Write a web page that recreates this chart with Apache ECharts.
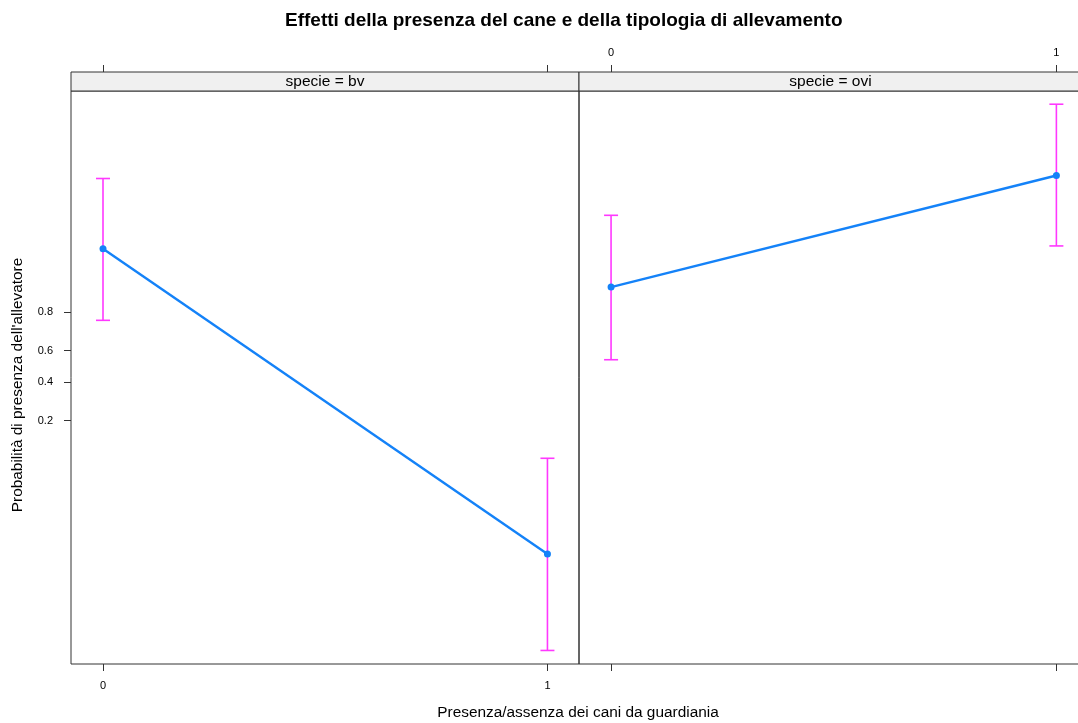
<!DOCTYPE html>
<html>
<head>
<meta charset="utf-8">
<script src="https://cdn.jsdelivr.net/npm/echarts@6/dist/echarts.min.js"></script>
<style>
  html, body { margin: 0; padding: 0; background: #ffffff; }
  #chart { width: 1078px; height: 723px; }
</style>
</head>
<body>
<div id="chart"></div>
<script>
// Fitted probabilities and 95% bounds, by guard-dog presence (0/1), per species panel
const categories = [0, 1];
const panelNames = ['specie = bv', 'specie = ovi'];
const fitBv = [0.953, 0.0082];
const lowerBv = [0.765, 0.0007];
const upperBv = [0.9919, 0.0872];
const fitOvi = [0.884, 0.9925];
const lowerOvi = [0.543, 0.9562];
const upperOvi = [0.9795, 0.99878];
const yTickLabels = [0.2, 0.4, 0.6, 0.8];

// the vertical axis is drawn on the logit scale
const logit = p => Math.log(p / (1 - p));
const invLogit = v => 1 / (1 + Math.exp(-v));

const BLUE = '#1482f8';
const MAGENTA = '#ff38ff';
const FONT = '"Liberation Sans", Arial, sans-serif';

const yMin = -7.61, yMax = 7.046;
const xMin = -0.072, xMax = 1.071;

function lineData(fit) {
  return categories.map((c, i) => [c, logit(fit[i])]);
}
function barData(lower, upper) {
  return categories.map((c, i) => [c, logit(lower[i]), logit(upper[i])]);
}

function errorBar(params, api) {
  const x = api.value(0);
  const lo = api.coord([x, api.value(1)]);
  const hi = api.coord([x, api.value(2)]);
  const half = 7;
  const style = { stroke: MAGENTA, lineWidth: 1.6, fill: null };
  return {
    type: 'group',
    children: [
      { type: 'line', shape: { x1: lo[0], y1: lo[1], x2: hi[0], y2: hi[1] }, style },
      { type: 'line', shape: { x1: lo[0] - half, y1: lo[1], x2: lo[0] + half, y2: lo[1] }, style },
      { type: 'line', shape: { x1: hi[0] - half, y1: hi[1], x2: hi[0] + half, y2: hi[1] }, style }
    ]
  };
}

const tickStyle = { show: true, length: 7, inside: false, lineStyle: { color: '#333', width: 1 } };

// lattice-style axes: ticks on both sides, labels alternating between panels
function xAxisFor(gridIndex, position, offset, margin, showLabels) {
  return {
    type: 'value', gridIndex, position, offset,
    min: xMin, max: xMax,
    axisLine: { show: false, onZero: false },
    splitLine: { show: false },
    axisTick: Object.assign({ customValues: categories }, tickStyle),
    axisLabel: {
      show: showLabels, customValues: categories, margin,
      color: '#000', fontFamily: FONT, fontSize: 11,
      formatter: v => String(Math.round(v))
    }
  };
}

const chart = echarts.init(document.getElementById('chart'), null, { renderer: 'canvas' });

const gridTop = 91, gridHeight = 573;
const panels = [
  { left: 71, width: 508 },
  { left: 579, width: 509 }
];

chart.setOption({
  animation: false,
  backgroundColor: '#ffffff',
  title: {
    text: 'Effetti della presenza del cane e della tipologia di allevamento',
    left: 280, top: 6,
    textStyle: { fontFamily: FONT, fontSize: 19, fontWeight: 'bold', color: '#000' }
  },
  grid: panels.map(p => ({
    left: p.left, top: gridTop, width: p.width, height: gridHeight,
    outerBoundsMode: 'none', containLabel: false,
    show: true, borderColor: '#333', borderWidth: 1, backgroundColor: 'transparent'
  })),
  xAxis: [
    xAxisFor(0, 'bottom', 0, 16, true),
    xAxisFor(1, 'top', 19, 14, true),
    xAxisFor(0, 'top', 19, 14, false),
    xAxisFor(1, 'bottom', 0, 16, false)
  ],
  yAxis: [
    {
      type: 'value', gridIndex: 0, min: yMin, max: yMax,
      axisLine: { show: false, onZero: false }, splitLine: { show: false },
      axisTick: Object.assign({ customValues: yTickLabels.map(logit) }, tickStyle),
      axisLabel: {
        customValues: yTickLabels.map(logit), margin: 18,
        color: '#000', fontFamily: FONT, fontSize: 11,
        formatter: v => invLogit(v).toFixed(1)
      }
    },
    {
      type: 'value', gridIndex: 1, min: yMin, max: yMax,
      axisLine: { show: false, onZero: false }, splitLine: { show: false },
      axisTick: { show: false }, axisLabel: { show: false }
    }
  ],
  series: [
    {
      type: 'custom', xAxisIndex: 0, yAxisIndex: 0,
      data: barData(lowerBv, upperBv), renderItem: errorBar, z: 2
    },
    {
      type: 'custom', xAxisIndex: 1, yAxisIndex: 1,
      data: barData(lowerOvi, upperOvi), renderItem: errorBar, z: 2
    },
    {
      type: 'line', xAxisIndex: 0, yAxisIndex: 0, data: lineData(fitBv),
      symbol: 'circle', symbolSize: 7, z: 3,
      lineStyle: { color: BLUE, width: 2.4 }, itemStyle: { color: BLUE }
    },
    {
      type: 'line', xAxisIndex: 1, yAxisIndex: 1, data: lineData(fitOvi),
      symbol: 'circle', symbolSize: 7, z: 3,
      lineStyle: { color: BLUE, width: 2.4 }, itemStyle: { color: BLUE }
    }
  ],
  graphic: [
    // strip headers above each panel
    ...panels.map((p, i) => ({
      type: 'group', x: p.left, y: 72,
      children: [
        { type: 'rect', shape: { x: 0, y: 0, width: p.width, height: 19 },
          style: { fill: '#f0f0f0', stroke: '#333', lineWidth: 1 } },
        { type: 'text', x: p.width / 2 - (i === 1 ? 3 : 0), y: 10,
          style: { text: panelNames[i], fill: '#000', font: '15.5px ' + FONT, align: 'center', verticalAlign: 'middle' } }
      ]
    })),
    {
      type: 'text', x: 578, y: 713,
      style: { text: 'Presenza/assenza dei cani da guardiania', fill: '#000', font: '15.4px ' + FONT,
               align: 'center', verticalAlign: 'middle' }
    },
    {
      type: 'text', x: 18, y: 385, rotation: Math.PI / 2,
      style: { text: "Probabilità di presenza dell'allevatore", fill: '#000', font: '15.4px ' + FONT,
               align: 'center', verticalAlign: 'middle' }
    }
  ]
});
</script>
</body>
</html>
